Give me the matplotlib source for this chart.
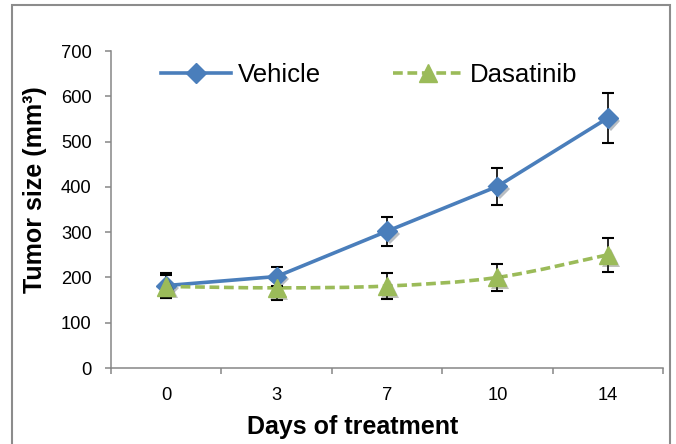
import numpy as np
import matplotlib
matplotlib.use('Agg')
import matplotlib.pyplot as plt
import matplotlib.patheffects as pe
from matplotlib.path import Path
from matplotlib.patches import PathPatch, Rectangle
from matplotlib.lines import Line2D

plt.rcParams['font.family'] = ['Liberation Sans', 'DejaVu Sans']

days = ['0', '3', '7', '10', '14']
vehicle = [182, 202, 302, 401, 552]
vehicle_err = [27, 21, 32, 40, 55]
dasatinib = [180, 177, 181, 200, 250]
dasatinib_err = [26, 27, 28, 30, 38]

blue = '#4a7ebb'
green = '#9bbb59'
dash = (0, (2.7, 1.3))


def smooth_path(x, y):
    # Excel-like smoothed line: cubic bezier through the points
    x = np.asarray(x, float)
    y = np.asarray(y, float)
    verts = [(x[0], y[0])]
    codes = [Path.MOVETO]
    n = len(x)
    for i in range(n - 1):
        i0 = max(i - 1, 0)
        i3 = min(i + 2, n - 1)
        c1 = (x[i] + (x[i + 1] - x[i0]) / 6., y[i] + (y[i + 1] - y[i0]) / 6.)
        c2 = (x[i + 1] - (x[i3] - x[i]) / 6., y[i + 1] - (y[i3] - y[i]) / 6.)
        verts += [c1, c2, (x[i + 1], y[i + 1])]
        codes += [Path.CURVE4] * 3
    return Path(verts, codes)


fig = plt.figure(figsize=(6.76, 4.44), dpi=100)
ax = fig.add_axes([111 / 676., 76 / 444., 552 / 676., 317 / 444.])

x = np.arange(len(days))
shadow = [pe.SimplePatchShadow(offset=(2, -2), alpha=0.3), pe.Normal()]

ax.plot(x, vehicle, color=blue, lw=2.6, zorder=2)
ax.add_patch(PathPatch(smooth_path(x, dasatinib), fill=False,
                       edgecolor=green, lw=2.6, linestyle=dash, zorder=2))

ax.errorbar(x, vehicle, yerr=vehicle_err, fmt='none', ecolor='black',
            elinewidth=1.2, capsize=4, capthick=1.5, zorder=3)
ax.errorbar(x, dasatinib, yerr=dasatinib_err, fmt='none', ecolor='black',
            elinewidth=1.2, capsize=4, capthick=1.5, zorder=3)

ax.plot(x, vehicle, ls='none', marker='D', ms=10, color=blue,
        mec=blue, zorder=4, path_effects=shadow)
ax.plot(x, dasatinib, ls='none', marker='^', ms=13, color=green,
        mec=green, zorder=5, path_effects=shadow)

ax.set_xlim(-0.5, len(days) - 0.5)
ax.set_ylim(0, 700)
ax.set_yticks(np.arange(0, 701, 100))
ax.set_xticks(x)
ax.set_xticklabels(days)
ax.set_xticks(np.arange(-0.5, len(days)), minor=True)

ax.tick_params(axis='x', which='major', length=0, pad=13.5, labelsize=13.2)
ax.tick_params(axis='x', which='minor', length=4, width=1.1, color='#868686')
ax.tick_params(axis='y', length=4, width=1.1, color='#868686', pad=10,
               labelsize=13.2)

for s in ['top', 'right']:
    ax.spines[s].set_visible(False)
for s in ['left', 'bottom']:
    ax.spines[s].set_color('#868686')
    ax.spines[s].set_linewidth(1.1)

ax.set_xlabel('Days of treatment', fontsize=18, fontweight='bold')
ax.xaxis.set_label_coords(0.438, -0.148)
ax.set_ylabel('Tumor size (mm³)', fontsize=18, fontweight='bold')
ax.yaxis.set_label_coords(-0.116, 0.562)

handles = [
    Line2D([], [], color=blue, lw=2.6, marker='D', ms=10),
    Line2D([], [], color=green, lw=2.6, ls=dash, marker='^', ms=13),
]
ax.legend(handles, ['Vehicle', 'Dasatinib'], ncol=2, frameon=False,
          fontsize=18.5, handlelength=2.72, handletextpad=0.27,
          columnspacing=2.82, loc='center left',
          bbox_to_anchor=(0.0906, 0.924), borderaxespad=0, borderpad=0)

fig.patches.append(Rectangle((12 / 676., -0.05), 658 / 676., 1 - 5 / 444. + 0.05,
                             transform=fig.transFigure, fill=False,
                             edgecolor='#8c8c8c', lw=1.5))

fig.savefig('out.png', dpi=100)
